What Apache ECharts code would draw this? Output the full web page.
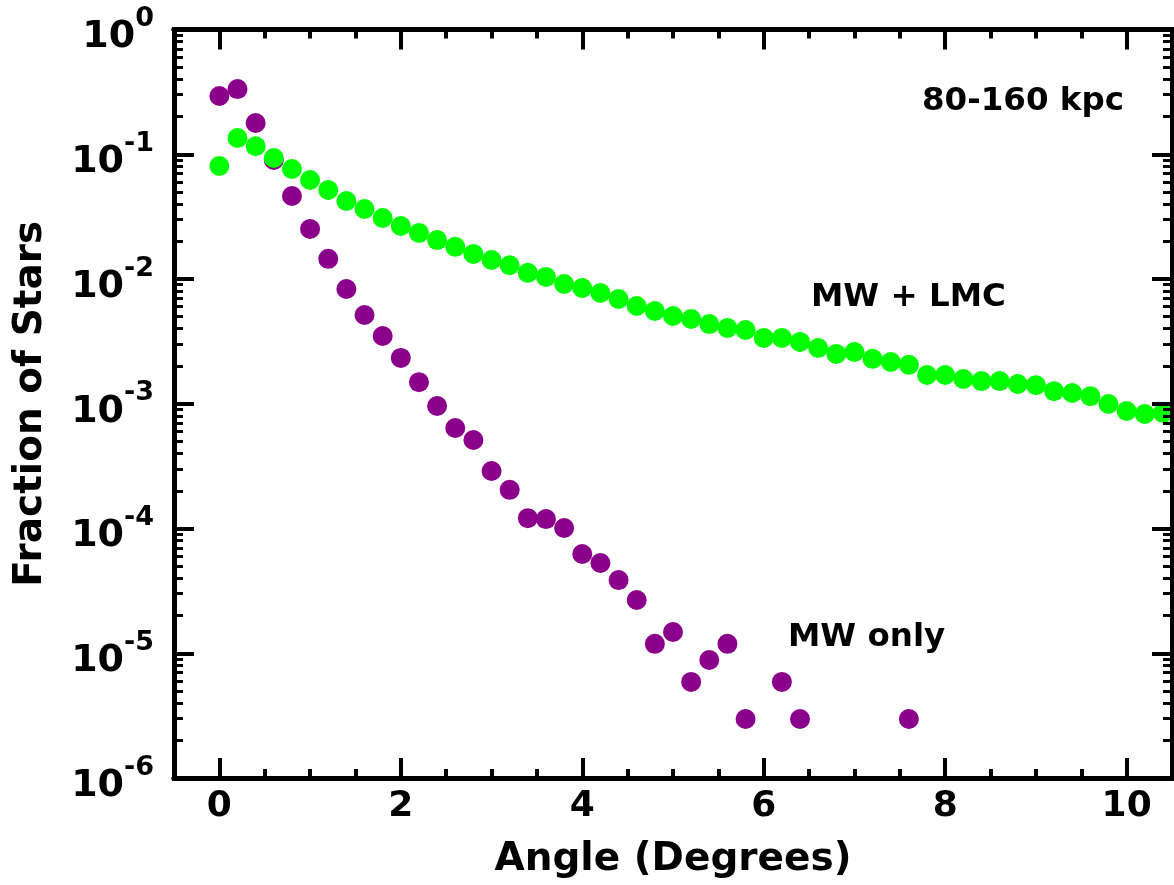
<!DOCTYPE html>
<html>
<head>
<meta charset="utf-8">
<script src="https://cdn.jsdelivr.net/npm/echarts@6/dist/echarts.min.js"></script>
<style>
  html, body { margin: 0; padding: 0; background: #ffffff; }
  #chart { width: 1174px; height: 885px; }
</style>
</head>
<body>
<div id="chart"></div>
<script>
// Angular distribution of stars, 80-160 kpc shell
const mwLmcAngles = [0, 0.2, 0.4, 0.6, 0.8, 1.0, 1.2, 1.4, 1.6, 1.8, 2.0, 2.2, 2.4, 2.6, 2.8,
  3.0, 3.2, 3.4, 3.6, 3.8, 4.0, 4.2, 4.4, 4.6, 4.8, 5.0, 5.2, 5.4, 5.6, 5.8, 6.0, 6.2, 6.4,
  6.6, 6.8, 7.0, 7.2, 7.4, 7.6, 7.8, 8.0, 8.2, 8.4, 8.6, 8.8, 9.0, 9.2, 9.4, 9.6, 9.8,
  10.0, 10.2, 10.4];
const mwLmcFraction = [0.0805, 0.135, 0.116, 0.0933, 0.0762, 0.0622, 0.0517, 0.0422, 0.0364,
  0.0308, 0.0266, 0.0234, 0.0205, 0.0181, 0.0159, 0.0142, 0.0129, 0.0112, 0.0104, 0.00912,
  0.00847, 0.00773, 0.00692, 0.00608, 0.00554, 0.00505, 0.00478, 0.00435, 0.00405, 0.00390,
  0.00337, 0.00337, 0.00313, 0.00280, 0.00251, 0.00260, 0.00229, 0.00216, 0.00205, 0.00170,
  0.00170, 0.00158, 0.00152, 0.00152, 0.00144, 0.00141, 0.00126, 0.00122, 0.00115, 0.000995,
  0.000875, 0.000828, 0.000845];

const mwOnlyAngles = [0, 0.2, 0.4, 0.6, 0.8, 1.0, 1.2, 1.4, 1.6, 1.8, 2.0, 2.2, 2.4, 2.6, 2.8,
  3.0, 3.2, 3.4, 3.6, 3.8, 4.0, 4.2, 4.4, 4.6, 4.8, 5.0, 5.2, 5.4, 5.6, 5.8, 6.2, 6.4, 7.6];
const mwOnlyFraction = [0.293, 0.333, 0.178, 0.090, 0.0463, 0.0252, 0.0145, 0.00832, 0.00515,
  0.00349, 0.00233, 0.00149, 0.000959, 0.000639, 0.000512, 0.000289, 0.000204, 0.000121,
  0.000119, 0.000101, 6.25e-5, 5.29e-5, 3.86e-5, 2.67e-5, 1.19e-5, 1.48e-5, 5.89e-6, 8.83e-6,
  1.19e-5, 2.97e-6, 5.89e-6, 2.97e-6, 2.97e-6];

// Tick positions
const xMajorTicks = [0, 2, 4, 6, 8, 10];
const xMinorTicks = [0.5, 1, 1.5, 2.5, 3, 3.5, 4.5, 5, 5.5, 6.5, 7, 7.5, 8.5, 9, 9.5];
const yMajorTicks = [1e-6, 1e-5, 1e-4, 1e-3, 1e-2, 1e-1, 1];
const yMinorMultipliers = [2, 3, 4, 5, 6, 7, 8, 9];
const yMinorTicks = [];
yMajorTicks.slice(0, -1).forEach(function (d) {
  yMinorMultipliers.forEach(function (m) { yMinorTicks.push(+(m * d).toPrecision(3)); });
});

const X_MIN = -0.5, X_MAX = 10.5;
const Y_MIN = 1e-6, Y_MAX = 1;
const FONT = '"DejaVu Sans", "Liberation Sans", sans-serif';

function pairs(xs, ys) { return xs.map(function (x, i) { return [x, ys[i]]; }); }

function xAxisDef(position, ticks, len, width, main) {
  return {
    type: 'value', position: position, min: X_MIN, max: X_MAX, z: 5,
    axisLine: { show: true, onZero: false, lineStyle: { color: '#000', width: 5 } },
    axisTick: { show: true, inside: true, length: len, customValues: ticks,
      lineStyle: { color: '#000', width: width } },
    axisLabel: main ? {
      show: true, customValues: ticks, margin: 11, color: '#000',
      fontFamily: FONT, fontWeight: 'bold', fontSize: 36
    } : { show: false },
    splitLine: { show: false },
    name: main ? 'Angle (Degrees)' : '',
    nameLocation: 'middle', nameGap: 62,
    nameTextStyle: { color: '#000', fontFamily: FONT, fontWeight: 'bold', fontSize: 39 }
  };
}

function yAxisDef(position, ticks, len, width, main) {
  return {
    type: 'log', logBase: 10, position: position, min: Y_MIN, max: Y_MAX, z: 5,
    axisLine: { show: true, onZero: false, lineStyle: { color: '#000', width: 5 } },
    axisTick: { show: true, inside: true, length: len, customValues: ticks,
      lineStyle: { color: '#000', width: width } },
    axisLabel: main ? {
      show: true, customValues: ticks, margin: 20,
      formatter: function (v) {
        return '{b|10}{s|' + Math.round(Math.log10(v)) + '}';
      },
      // base sits slightly below the tick, exponent raised above it
      rich: {
        b: { fontFamily: FONT, fontWeight: 'bold', fontSize: 38, color: '#000',
             lineHeight: 40, padding: [16, 0, 0, 0] },
        s: { fontFamily: FONT, fontWeight: 'bold', fontSize: 27, color: '#000',
             lineHeight: 40, padding: [0, 0, 21, 0] }
      }
    } : { show: false },
    splitLine: { show: false },
    minorTick: { show: false },
    name: main ? 'Fraction of Stars' : '',
    nameLocation: 'middle', nameGap: 124,
    nameTextStyle: { color: '#000', fontFamily: FONT, fontWeight: 'bold', fontSize: 39 }
  };
}

const chart = echarts.init(document.getElementById('chart'), null, { renderer: 'canvas' });

chart.setOption({
  backgroundColor: '#ffffff',
  animation: false,
  grid: { left: 174, right: 2, top: 29.5, bottom: 107, containLabel: false,
          outerBoundsMode: 'none' },
  xAxis: [
    xAxisDef('bottom', xMajorTicks, 20, 4, true),
    xAxisDef('bottom', xMinorTicks, 9, 4, false),
    xAxisDef('top', xMajorTicks, 20, 4, false),
    xAxisDef('top', xMinorTicks, 9, 4, false)
  ],
  yAxis: [
    yAxisDef('left', yMajorTicks, 20, 4, true),
    yAxisDef('left', yMinorTicks, 9, 3, false),
    yAxisDef('right', yMajorTicks, 20, 4, false),
    yAxisDef('right', yMinorTicks, 9, 3, false)
  ],
  series: [
    {
      name: 'MW only', type: 'scatter', xAxisIndex: 0, yAxisIndex: 0,
      symbol: 'circle', symbolSize: 20,
      itemStyle: { color: '#8b008b', opacity: 1 },
      emphasis: { disabled: true },
      data: pairs(mwOnlyAngles, mwOnlyFraction)
    },
    {
      name: 'MW + LMC', type: 'scatter', xAxisIndex: 0, yAxisIndex: 0,
      symbol: 'circle', symbolSize: 20,
      itemStyle: { color: '#00ff00', opacity: 1 },
      emphasis: { disabled: true },
      data: pairs(mwLmcAngles, mwLmcFraction)
    }
  ],
  graphic: [
    { type: 'text', left: 922, top: 85, z: 10,
      style: { text: '80-160 kpc', fill: '#000', font: 'bold 32.5px ' + FONT } },
    { type: 'text', left: 811, top: 281, z: 10,
      style: { text: 'MW + LMC', fill: '#000', font: 'bold 32.5px ' + FONT } },
    { type: 'text', left: 788, top: 621, z: 10,
      style: { text: 'MW only', fill: '#000', font: 'bold 32.5px ' + FONT } }
  ]
});
</script>
</body>
</html>
